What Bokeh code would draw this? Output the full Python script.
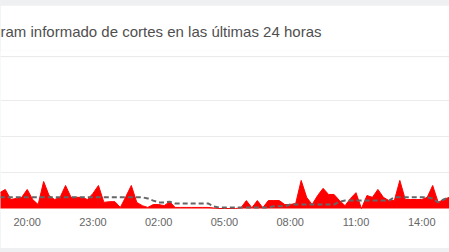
import pandas as pd
from bokeh.plotting import figure
from bokeh.models import (Range1d, FixedTicker, DatetimeTickFormatter,
                          ColumnDataSource, Span, Column)
from bokeh.embed import file_html
from bokeh.resources import INLINE

title_text = "ram informado de cortes en las últimas 24 horas"
start_time = "2024-01-01 18:45"
interval = "15min"

reports = [4.4, 5.3, 2.5, 2.8, 3.1, 5.3, 2.5, 1.1, 7.5, 3.6,
           2.5, 3.1, 6.4, 3.1, 3.1, 3.1, 2.5, 4.2, 6.4, 1.7,
           1.9, 1.9, 0.3, 3.3, 6.4, 1.7, 0.8, 0.3, 1.1, 1.1,
           0.8, 1.9, 0.3, 0.3, 0.3, 0.3, 0.3, 0.3, 0.3, 0.15,
           0, 0, 0, 0, 0.2, 2.2, 0.2, 2.2, 0.2, 2.2,
           2.2, 2.2, 1.1, 1.1, 1.4, 7.8, 3.1, 1.1, 3.6, 5.6,
           3.9, 3.9, 2.2, 0.8, 2.8, 4.4, 0, 3.6, 3.1, 5.3,
           3.1, 2.2, 2.2, 7.8, 2.5, 2.5, 2.5, 2.5, 3.1, 6.4,
           1.7, 2.5, 3.1, 3.6]

baseline = [3.1, 3.1, 3.1, 3.1, 3.1, 3.1, 3.1, 3.1, 3.1, 3.1,
            3.1, 3.1, 3.1, 3.1, 3.1, 3.1, 3.1, 3.1, 3.1, 3.1,
            3.1, 3.1, 3.1, 3.1, 3.1, 3.1, 3.1, 2.8, 2.2, 1.7,
            1.7, 1.9, 1.4, 1.4, 1.4, 1.4, 1.4, 1.4, 1.4, 0.6,
            0.3, 0.3, 0.3, 0.3, 0.3, 0.3, 0.3, 0.3, 0.3, 0.3,
            0.6, 0.6, 0.6, 1.1, 1.1, 1.1, 1.1, 1.1, 1.1, 1.1,
            1.1, 1.1, 1.9, 2.2, 2.2, 2.2, 2.2, 2.2, 2.2, 2.2,
            2.2, 2.2, 3.1, 3.1, 3.1, 3.1, 3.1, 3.1, 3.1, 2.8,
            1.7, 2.5, 3.1, 3.3]

tick_times = ["2024-01-01 20:00", "2024-01-01 23:00", "2024-01-02 02:00",
              "2024-01-02 05:00", "2024-01-02 08:00", "2024-01-02 11:00",
              "2024-01-02 14:00"]
grid_values = [10, 20, 30]
view_start = "2024-01-01 18:46:54"
view_end = "2024-01-02 15:16:00"
y_view = (-1.11, 43.9)
separator_value = 42.2

times = pd.date_range(start_time, periods=len(reports), freq=interval)
src = ColumnDataSource(dict(t=times, reports=reports, baseline=baseline))

p = figure(width=449, height=243, x_axis_type="datetime", y_axis_location=None,
           x_range=Range1d(pd.Timestamp(view_start), pd.Timestamp(view_end)),
           y_range=Range1d(*y_view),
           output_backend="svg", toolbar_location=None,
           min_border_left=0, min_border_right=0,
           min_border_top=45, min_border_bottom=36,
           outline_line_color=None, background_fill_color="white",
           border_fill_color="white")

p.title.text = title_text
p.title.text_font = "Liberation Sans"
p.title.text_font_size = "15px"
p.title.text_font_style = "normal"
p.title.text_color = "#4f4f4f"
p.title.align = "left"
p.title.offset = 0
p.title.standoff = 21

p.xgrid.grid_line_color = None
p.ygrid.ticker = FixedTicker(ticks=grid_values)
p.ygrid.grid_line_color = "#ebebeb"
p.ygrid.grid_line_width = 1

tick_ms = [pd.Timestamp(t).value // 10**6 for t in tick_times]
p.xaxis.ticker = FixedTicker(ticks=tick_ms)
p.xaxis.formatter = DatetimeTickFormatter(hours="%H:%M", minutes="%H:%M",
                                          days="%H:%M", hourmin="%H:%M")
p.xaxis.axis_line_color = None
p.xaxis.major_tick_line_color = None
p.xaxis.minor_tick_line_color = None
p.xaxis.major_tick_out = 0
p.xaxis.major_tick_in = 0
p.xaxis.major_label_standoff = 3
p.xaxis.major_label_text_font = "Liberation Sans"
p.xaxis.major_label_text_font_size = "11px"
p.xaxis.major_label_text_color = "#666666"

p.add_layout(Span(location=separator_value, dimension="width",
                  line_color="#e8e8e8", line_width=1))

p.varea(x="t", y1=0, y2="reports", source=src, fill_color="#ff0000")
p.line(x="t", y="reports", source=src, line_color="#ff0000", line_width=1)
p.line(x="t", y="baseline", source=src, line_color="#666666",
       line_width=2, line_dash="5 3")

p.margin = (5, 0, 4, 0)
root = Column(children=[p], styles={"background-color": "#eef0f2"})

open("out.html", "w").write(file_html(root, INLINE))
